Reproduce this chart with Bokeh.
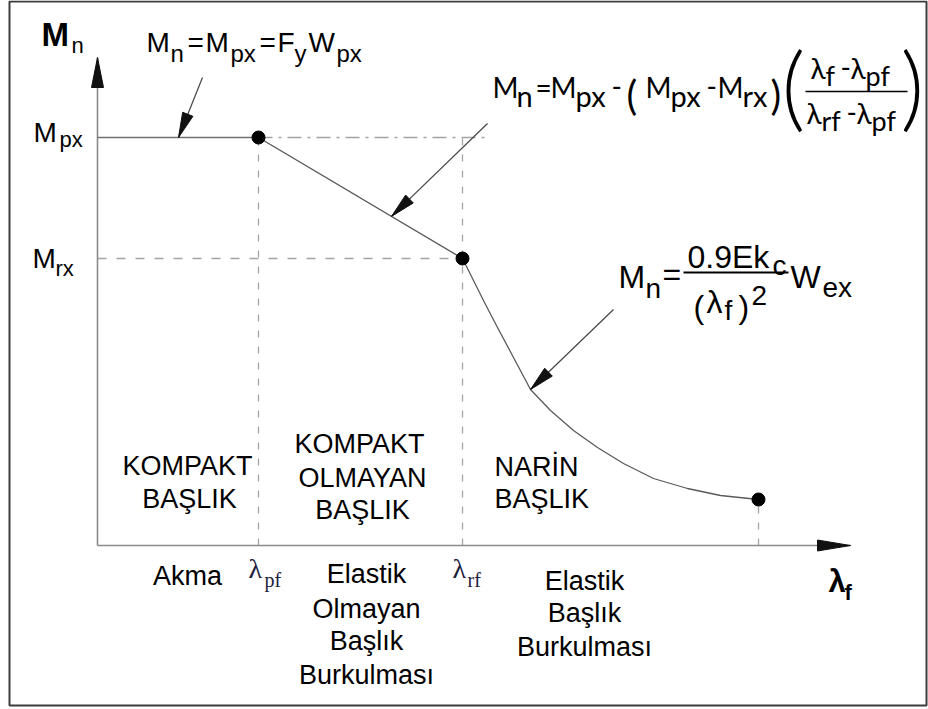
import math

from bokeh.plotting import figure
from bokeh.models import Range1d
from bokeh.core.properties import value
from bokeh.embed import file_html
from bokeh.resources import INLINE

# ---- chart values (drawing units, 1 unit = 1 px) ----
# slenderness breakpoints on the lambda_f axis
lam_pf = 161
lam_rf = 365
lam_end = 661
# nominal moment levels on the M_n axis
M_px = 408
M_rx = 287
M_end = 46
# elastic flange buckling branch (lambda_f > lambda_rf)
curve_lam = [365, 375, 387, 400, 416, 433, 453, 476, 500, 526, 556, 590, 623, 661]
curve_M = [287, 267, 243, 218, 188, 156, 135, 115, 98, 82, 67, 57, 50, 46]
# axis lengths
lam_axis_end = 753
M_axis_end = 488

# ---- canvas ----
W, H = 928, 709
X0, Y0 = 97, 545  # canvas position of the axis origin

p = figure(width=W, height=H,
           x_range=Range1d(-X0, W - X0), y_range=Range1d(Y0 - H, Y0),
           output_backend="svg", toolbar_location=None,
           x_axis_location=None, y_axis_location=None,
           min_border=0, outline_line_color=None,
           background_fill_color="white", border_fill_color="white")
p.grid.visible = False

# distance from the alphabetic baseline up to the em-box middle, per font
MID = {"Liberation Sans": 0.347, "Lato": 0.387, "Lato Light": 0.387,
       "Liberation Serif": 0.338}


def pt(x, y):
    """Canvas pixel position -> drawing units."""
    return x - X0, Y0 - y


def txt(x, base, s, size, font="Liberation Sans", style="normal",
        align="left", color="#000000"):
    """Place text whose alphabetic baseline sits at canvas row `base`."""
    dx, dy = pt(x, base - MID[font] * size)
    p.text(x=[dx], y=[dy], text=[s], text_font=value(font),
           text_font_size=f"{size}px", text_font_style=style,
           text_align=align, text_baseline="middle", text_color=color)


def head(tip, tail, length, half, color="#111111"):
    tx, ty = tip
    ux, uy = tx - tail[0], ty - tail[1]
    d = math.hypot(ux, uy)
    ux, uy = ux / d, uy / d
    bx, by = tx - ux * length, ty - uy * length
    nx, ny = -uy, ux
    p.patch(x=[tx, bx + nx * half, bx - nx * half],
            y=[ty, by + ny * half, by - ny * half],
            fill_color=color, line_color=color, line_width=1)


# frame around the figure
l, t = pt(9, 1)
r, b = pt(926, 705)
p.quad(left=[l], right=[r], top=[t], bottom=[b], fill_color=None,
       line_color="#3c3c3c", line_width=2)

# ---- guide lines ----
dash_col = "#a3a3a3"
p.line([lam_pf, lam_pf], [0, M_px], line_color=dash_col, line_width=1.3, line_dash="7 9")
p.line([lam_rf, lam_rf], [0, M_px], line_color=dash_col, line_width=1.3, line_dash="7 9")
p.line([lam_end, lam_end], [0, M_end], line_color=dash_col, line_width=1.3, line_dash="7 9")
p.line([0, lam_rf], [M_rx, M_rx], line_color=dash_col, line_width=1.3, line_dash="9 10")
p.line([lam_pf, lam_rf + 25], [M_px, M_px], line_color=dash_col, line_width=1.3,
       line_dash="14 6 3 6")

# ---- axes ----
axis_col = "#8a8a8a"
p.line([0, 0], [0, M_axis_end], line_color=axis_col, line_width=1.6)
p.line([0, lam_axis_end], [0, 0], line_color=axis_col, line_width=1.6)
head((0, M_axis_end), (0, 0), 30, 6)
head((lam_axis_end, 0), (0, 0), 33, 5.5)

# ---- capacity curve ----
p.line([0, lam_pf], [M_px, M_px], line_color="#707070", line_width=1.4)
p.line([lam_pf, lam_rf], [M_px, M_rx], line_color="#555555", line_width=1.3)
p.line(curve_lam, curve_M, line_color="#5a5a5a", line_width=1.3, line_join="round")
p.scatter([lam_pf, lam_rf, lam_end], [M_px, M_rx, M_end], size=13,
          fill_color="black", line_color="black")

# ---- leader arrows to the formulas ----
lead_col = "#444444"
tailA = pt(202, 77)
tipA = (81, M_px)
lamB = 294
tailB = pt(487, 123)
tipB = (lamB, M_px - (M_px - M_rx) * (lamB - lam_pf) / (lam_rf - lam_pf))
tailC = pt(613, 309)
tipC = (curve_lam[5], curve_M[5])
for tail, tip in [(tailA, tipA), (tailB, tipB), (tailC, tipC)]:
    p.line([tail[0], tip[0]], [tail[1], tip[1]], line_color=lead_col, line_width=1.2)
    head(tip, tail, 25, 5.5)

# ---- axis titles and level labels ----
txt(41, 45, "M", 33, style="bold")
txt(71, 53, "n", 22)
txt(33, 142, "M", 28)
txt(59, 147, "px", 22)
txt(32, 268, "M", 28)
txt(55, 276, "rx", 22)
txt(828, 592, "λ", 31, style="bold")
txt(844, 600, "f", 22, style="bold")

serif_col = "#20203a"
txt(248, 577, "λ", 28, font="Liberation Serif", color=serif_col)
txt(264, 586, "pf", 20, font="Liberation Serif", color=serif_col)
txt(452, 577, "λ", 28, font="Liberation Serif", color=serif_col)
txt(467, 586, "rf", 20, font="Liberation Serif", color=serif_col)

# ---- formula: plastic moment ----
f1, s1 = 28, 24
for x, s, sz, yb in [(146, "M", f1, 52), (170, "n", s1, 61), (187, "=", f1, 52),
                     (205, "M", f1, 52), (230, "px", s1, 61), (259, "=", f1, 52),
                     (277, "F", f1, 52), (294, "y", s1, 61), (308, "W", f1, 52),
                     (336, "px", s1, 61)]:
    txt(x, yb, s, sz)

# ---- formula: inelastic flange buckling ----
F2 = "Lato"
f2, s2, s2f = 28, 29, 27
for x, s, sz, yb in [(492, "M", f2, 97), (516, "n", s2, 106), (535, "=", f2, 97),
                     (550, "M", f2, 97), (575, "px", s2, 106), (611, "-", f2, 97),
                     (626, "(", 40, 110), (645, "M", f2, 97), (670, "px", s2, 106),
                     (706, "-", f2, 97), (717, "M", f2, 97), (742, "rx", s2, 106),
                     (770, ")", 40, 110),
                     (810, "λ", f2, 78), (825, "f", s2f, 85), (840, "-", f2, 78),
                     (850, "λ", f2, 78), (865, "pf", s2f, 85),
                     (806, "λ", f2, 123), (821, "rf", s2f, 130), (846, "-", f2, 123),
                     (856, "λ", f2, 123), (871, "pf", s2f, 130)]:
    txt(x, yb, s, sz, font=F2)
txt(781, 120, "(", 92, font="Lato Light")
txt(900, 120, ")", 92, font="Lato Light")
bx0, by0 = pt(805, 91)
bx1, _ = pt(907, 91)
p.line([bx0, bx1], [by0, by0], line_color="black", line_width=1.6)

# ---- formula: elastic flange buckling ----
f3, s3 = 32, 28
for x, s, sz, yb in [(618, "M", f3, 288), (645, "n", s3, 298), (662, "=", f3, 285),
                     (687, "0.9Ek", f3, 268), (772, "c", s3, 275),
                     (693, "(", f3, 318), (706, "λ", f3, 313), (724, "f", s3, 320),
                     (738, ")", f3, 318), (751, "2", s3, 305),
                     (790, "W", f3, 288), (822, "ex", s3, 297)]:
    txt(x, yb, s, sz)
ax0, ay0 = pt(683, 272)
ax1, _ = pt(788, 272)
p.line([ax0, ax1], [ay0, ay0], line_color="black", line_width=1.8)

# ---- region names ----
rs = 27
txt(187, 475, "KOMPAKT", rs, align="center")
txt(189, 508, "BAŞLIK", rs, align="center")
txt(359, 453, "KOMPAKT", rs, align="center")
txt(362, 487, "OLMAYAN", rs, align="center")
txt(362, 519, "BAŞLIK", rs, align="center")
txt(494, 476, "NARİN", rs)
txt(494, 508, "BAŞLIK", rs)

# ---- behaviour under the lambda_f axis ----
txt(187, 585, "Akma", rs, align="center")
for yb, s in [(583, "Elastik"), (618, "Olmayan"), (650, "Başlık"), (684, "Burkulması")]:
    txt(366, yb, s, rs, align="center")
for yb, s in [(590, "Elastik"), (622, "Başlık"), (656, "Burkulması")]:
    txt(584, yb, s, rs, align="center")

open("out.html", "w").write(file_html(p, INLINE))
